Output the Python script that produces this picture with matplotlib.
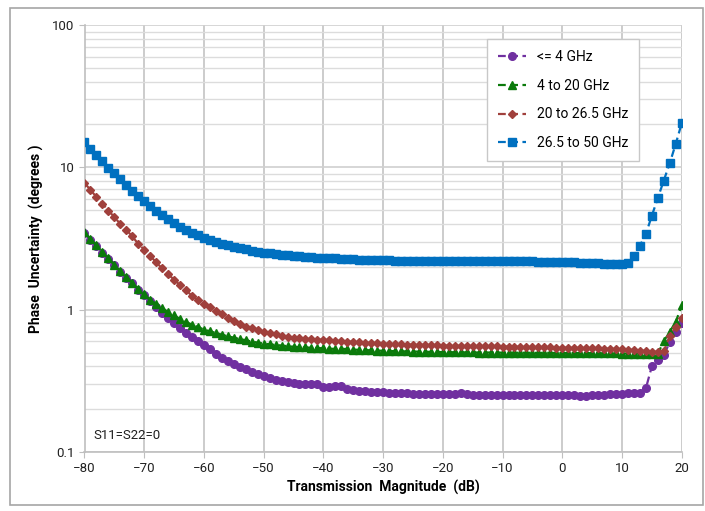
import matplotlib
matplotlib.use("Agg")
import matplotlib.pyplot as plt
from matplotlib.patches import Rectangle
from matplotlib.ticker import LogLocator, NullFormatter, FixedLocator, FixedFormatter

plt.rcParams['font.family'] = ['Roboto', 'DejaVu Sans']

x_db = list(range(-80, 21))

s_le4 = [3.45, 3.10, 2.82, 2.52, 2.27, 2.05, 1.84, 1.67, 1.53, 1.38,
         1.26, 1.15, 1.04, 0.95, 0.87, 0.81, 0.745, 0.69, 0.645, 0.605,
         0.568, 0.526, 0.49, 0.46, 0.436, 0.414, 0.396, 0.38, 0.366, 0.352,
         0.341, 0.331, 0.323, 0.316, 0.31, 0.303, 0.30, 0.30, 0.30, 0.30,
         0.284, 0.285, 0.291, 0.29, 0.278, 0.272, 0.27, 0.268, 0.264, 0.263,
         0.263, 0.261, 0.261, 0.258, 0.258, 0.257, 0.255, 0.254, 0.254, 0.255,
         0.255, 0.257, 0.256, 0.258, 0.255, 0.252, 0.252, 0.252, 0.251, 0.251,
         0.25, 0.25, 0.251, 0.252, 0.252, 0.253, 0.253, 0.252, 0.252, 0.251,
         0.251, 0.25, 0.25, 0.249, 0.249, 0.25, 0.251, 0.253, 0.255, 0.256,
         0.257, 0.258, 0.258, 0.259, 0.28, 0.40, 0.446, 0.48, 0.59, 0.70, 0.81]

s_4_20 = [3.49, 3.13, 2.84, 2.54, 2.29, 2.07, 1.86, 1.69, 1.55, 1.40,
          1.28, 1.17, 1.10, 1.03, 0.96, 0.91, 0.86, 0.82, 0.785, 0.755,
          0.725, 0.705, 0.686, 0.667, 0.65, 0.636, 0.622, 0.61, 0.597, 0.587,
          0.578, 0.571, 0.565, 0.56, 0.554, 0.549, 0.545, 0.543, 0.54, 0.538,
          0.535, 0.532, 0.53, 0.532, 0.527, 0.524, 0.522, 0.52, 0.518, 0.516,
          0.514, 0.512, 0.511, 0.51, 0.509, 0.508, 0.507, 0.506, 0.505, 0.504,
          0.503, 0.503, 0.502, 0.502, 0.501, 0.501, 0.50, 0.50, 0.50, 0.499,
          0.499, 0.499, 0.498, 0.498, 0.498, 0.497, 0.497, 0.497, 0.497, 0.496,
          0.496, 0.496, 0.496, 0.495, 0.495, 0.495, 0.494, 0.494, 0.493, 0.493,
          0.492, 0.492, 0.491, 0.491, 0.49, 0.49, 0.49, 0.60, 0.70, 0.82, 1.07]

s_20_265 = [7.75, 6.95, 6.18, 5.55, 4.97, 4.47, 4.0, 3.64, 3.27, 2.90,
            2.64, 2.39, 2.15, 1.95, 1.78, 1.62, 1.49, 1.37, 1.25, 1.17,
            1.10, 1.04, 0.98, 0.93, 0.875, 0.83, 0.79, 0.76, 0.74, 0.715,
            0.70, 0.686, 0.672, 0.658, 0.646, 0.636, 0.63, 0.624, 0.62, 0.617,
            0.615, 0.61, 0.605, 0.60, 0.597, 0.594, 0.59, 0.587, 0.584, 0.58,
            0.577, 0.575, 0.573, 0.571, 0.569, 0.567, 0.566, 0.565, 0.563, 0.562,
            0.56, 0.559, 0.558, 0.557, 0.556, 0.555, 0.555, 0.554, 0.553, 0.552,
            0.551, 0.55, 0.549, 0.548, 0.547, 0.546, 0.545, 0.544, 0.543, 0.542,
            0.541, 0.54, 0.539, 0.538, 0.537, 0.536, 0.535, 0.533, 0.531, 0.529,
            0.527, 0.524, 0.52, 0.516, 0.512, 0.508, 0.505, 0.51, 0.65, 0.76, 0.87]

s_265_50 = [15.1, 13.5, 12.2, 11.0, 9.95, 9.1, 8.26, 7.57, 6.87, 6.31,
            5.79, 5.37, 4.97, 4.64, 4.33, 4.06, 3.80, 3.62, 3.46, 3.32,
            3.19, 3.08, 2.98, 2.90, 2.83, 2.76, 2.70, 2.65, 2.60, 2.56,
            2.52, 2.49, 2.46, 2.43, 2.41, 2.39, 2.37, 2.35, 2.34, 2.32,
            2.31, 2.30, 2.29, 2.28, 2.27, 2.26, 2.25, 2.24, 2.24, 2.23,
            2.22, 2.22, 2.21, 2.21, 2.21, 2.20, 2.20, 2.20, 2.20, 2.20,
            2.20, 2.20, 2.20, 2.20, 2.20, 2.19, 2.19, 2.19, 2.19, 2.19,
            2.19, 2.18, 2.18, 2.18, 2.18, 2.18, 2.17, 2.17, 2.17, 2.17,
            2.16, 2.15, 2.15, 2.14, 2.14, 2.13, 2.12, 2.11, 2.10, 2.10,
            2.10, 2.13, 2.40, 2.81, 3.40, 4.57, 6.08, 8.08, 10.7, 14.6, 20.4]

series_labels = ["<= 4 GHz", "4 to 20 GHz", "20 to 26.5 GHz", "26.5 to 50 GHz"]
x_ticks = [-80, -70, -60, -50, -40, -30, -20, -10, 0, 10, 20]
y_ticks = [0.1, 1, 10, 100]
y_tick_labels = ["0.1", "1", "10", "100"]

fig = plt.figure(figsize=(7.05, 5.11), dpi=100)
ax = fig.add_axes([84.5/705, 1-452/511, (681.7-84.5)/705, (452-25)/511])

styles = [
    dict(color="#7030A0", marker="o", ms=5.5),
    dict(color="#0B7A0B", marker="^", ms=6),
    dict(color="#A0403C", marker="D", ms=4.5),
    dict(color="#0070C0", marker="s", ms=5.5),
]
for ys, lab, st in zip([s_le4, s_4_20, s_20_265, s_265_50], series_labels, styles):
    ax.plot(x_db, ys, linestyle=(0, (3.5, 2)), lw=1.6, color=st["color"],
            marker=st["marker"], ms=st["ms"], mec=st["color"], mfc=st["color"],
            label=lab, zorder=3)

ax.set_yscale("log")
ax.set_xlim(-80, 20)
ax.set_ylim(0.1, 100)
ax.xaxis.set_major_locator(FixedLocator(x_ticks))
ax.yaxis.set_major_locator(FixedLocator(y_ticks))
ax.yaxis.set_major_formatter(FixedFormatter(y_tick_labels))
ax.yaxis.set_minor_locator(LogLocator(base=10, subs=[2, 3, 4, 5, 6, 7, 8, 9]))
ax.yaxis.set_minor_formatter(NullFormatter())

ax.grid(True, which="major", axis="x", color="#c4c4c4", lw=1.2)
ax.grid(True, which="major", axis="y", color="#d0d0d0", lw=1.2)
ax.grid(True, which="minor", axis="y", color="#dcdcdc", lw=1.0)
ax.set_axisbelow(True)

for s in ["top", "right"]:
    ax.spines[s].set_visible(False)
for s in ["left", "bottom"]:
    ax.spines[s].set_color("#bfbfbf")
    ax.spines[s].set_linewidth(1.2)

ax.tick_params(axis="both", which="major", length=4, color="#bfbfbf",
               labelsize=9.5, labelcolor="#202020", pad=3)
ax.tick_params(axis="y", which="minor", length=0)

ax.set_xlabel("Transmission  Magnitude  (dB)", fontsize=10, fontweight="bold", labelpad=4)
ax.set_ylabel("Phase  Uncertainty  (degrees )", fontsize=10, fontweight="bold", labelpad=6)

ax.text(-78.5, 0.13, "S11=S22=0", fontsize=9.5, color="#202020", va="center")

leg = ax.legend(loc="upper left", bbox_to_anchor=(0.674, 0.967), fontsize=10,
                frameon=True, fancybox=False, edgecolor="#c8c8c8", framealpha=1,
                labelspacing=1.05, borderpad=0.8, handlelength=2.0, handletextpad=0.8,
                borderaxespad=0, numpoints=1)
leg.get_frame().set_linewidth(1.0)

fig.patches.append(Rectangle((10/705, 1-505/511), 693/705, 497/511, transform=fig.transFigure,
                             fill=False, edgecolor="#a6a6a6", lw=1.2))

fig.savefig("out.png", dpi=100)
